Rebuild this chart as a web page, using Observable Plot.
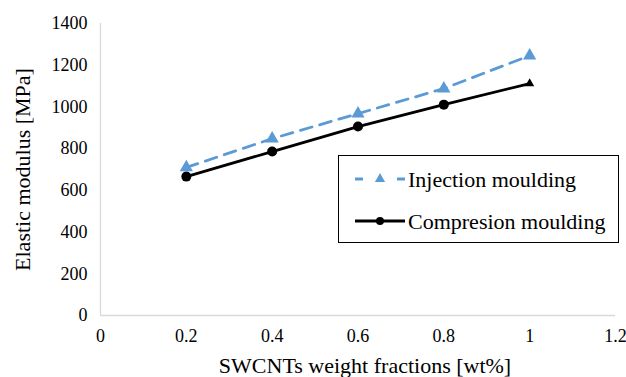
<!DOCTYPE html>
<html>
<head>
<meta charset="utf-8">
<script src="https://cdn.jsdelivr.net/npm/d3@7"></script>
<script src="https://cdn.jsdelivr.net/npm/@observablehq/plot@0.6"></script>
<style>
  html, body { margin: 0; padding: 0; background: #fff; }
  #chart { position: relative; width: 626px; height: 377px; }
</style>
</head>
<body>
<div id="chart"></div>
<script>
// SWCNT weight fraction (wt%) and elastic modulus (MPa) per processing route
const fractions = [0.2, 0.4, 0.6, 0.8, 1.0];
const injection = [710, 848, 968, 1088, 1246];
const compression = [666, 786, 906, 1011, 1112];
const seriesNames = ["Injection moulding", "Compresion moulding"];
const xTitle = "SWCNTs weight fractions [wt%]";
const yTitle = "Elastic modulus [MPa]";
const xTicks = [0, 0.2, 0.4, 0.6, 0.8, 1, 1.2];
const yTicks = [0, 200, 400, 600, 800, 1000, 1200, 1400];

const blue = "#5b9bd5";
const font = "Liberation Serif, Times New Roman, serif";

const inj = fractions.map((x, i) => ({x, y: injection[i]}));
const comp = fractions.map((x, i) => ({x, y: compression[i]}));
const last = comp.length - 1;

const plot = Plot.plot({
  width: 626,
  height: 377,
  marginLeft: 100,
  marginRight: 11,
  marginTop: 23,
  marginBottom: 62,
  style: {fontFamily: font, color: "#000", background: "#fff"},
  x: {domain: [0, 1.2], axis: null},
  y: {domain: [0, 1400], axis: null},
  marks: [
    // axis lines
    Plot.ruleX([0], {stroke: "#d9d9d9", strokeWidth: 1.3}),
    Plot.ruleY([0], {stroke: "#d9d9d9", strokeWidth: 1.3}),
    // tick labels placed through the x and y scales
    Plot.text(xTicks, {x: d => d, frameAnchor: "bottom", dy: 21, lineAnchor: "middle", textAnchor: "middle",
      text: d => String(d), fontSize: 18, fontFamily: font, fill: "#000"}),
    Plot.text(yTicks, {y: d => d, frameAnchor: "left", dx: -13, lineAnchor: "middle", textAnchor: "end",
      text: d => String(d), fontSize: 18, fontFamily: font, fill: "#000"}),
    // axis titles
    Plot.text([xTitle], {frameAnchor: "bottom", dx: 7, dy: 50, lineAnchor: "middle", textAnchor: "middle",
      fontSize: 22, fontFamily: font, fill: "#000"}),
    Plot.text([yTitle], {frameAnchor: "left", dx: -78, rotate: -90, lineAnchor: "middle", textAnchor: "middle",
      fontSize: 22, fontFamily: font, fill: "#000"}),
    // series
    Plot.line(comp, {x: "x", y: "y", stroke: "#000", strokeWidth: 2.8}),
    Plot.line(inj, {x: "x", y: "y", stroke: blue, strokeWidth: 2.8, strokeDasharray: "12,8"}),
    Plot.dot(comp.slice(0, last), {x: "x", y: "y", r: 5, fill: "#000"}),
    Plot.dot(comp.slice(last), {x: "x", y: "y", r: 3.4, symbol: "triangle", fill: "#000"}),
    Plot.dot(inj, {x: "x", y: "y", r: 4.9, symbol: "triangle", fill: blue})
  ]
});
document.getElementById("chart").appendChild(plot);

// Framed legend in the lower right of the plotting area
const svg = d3.select(plot);
const lg = svg.append("g").attr("font-family", font).attr("font-size", 22).attr("text-anchor", "start");
lg.append("rect").attr("x", 338.5).attr("y", 155.5).attr("width", 280).attr("height", 87)
  .attr("fill", "#fff").attr("stroke", "#000").attr("stroke-width", 1);
const rows = [
  {name: seriesNames[0], y: 179, stroke: blue, dash: "8,34", sym: d3.symbolTriangle, size: 45, color: blue},
  {name: seriesNames[1], y: 221, stroke: "#000", dash: null, sym: d3.symbolCircle, size: 50, color: "#000"}
];
rows.forEach(r => {
  lg.append("line").attr("x1", 355).attr("x2", 405).attr("y1", r.y).attr("y2", r.y)
    .attr("stroke", r.stroke).attr("stroke-width", 2.8).attr("stroke-dasharray", r.dash);
  lg.append("path").attr("d", d3.symbol(r.sym, r.size)()).attr("transform", `translate(380,${r.y})`)
    .attr("fill", r.color);
  lg.append("text").attr("x", 408).attr("y", r.y).attr("dy", "0.35em").attr("fill", "#000").text(r.name);
});
</script>
</body>
</html>
